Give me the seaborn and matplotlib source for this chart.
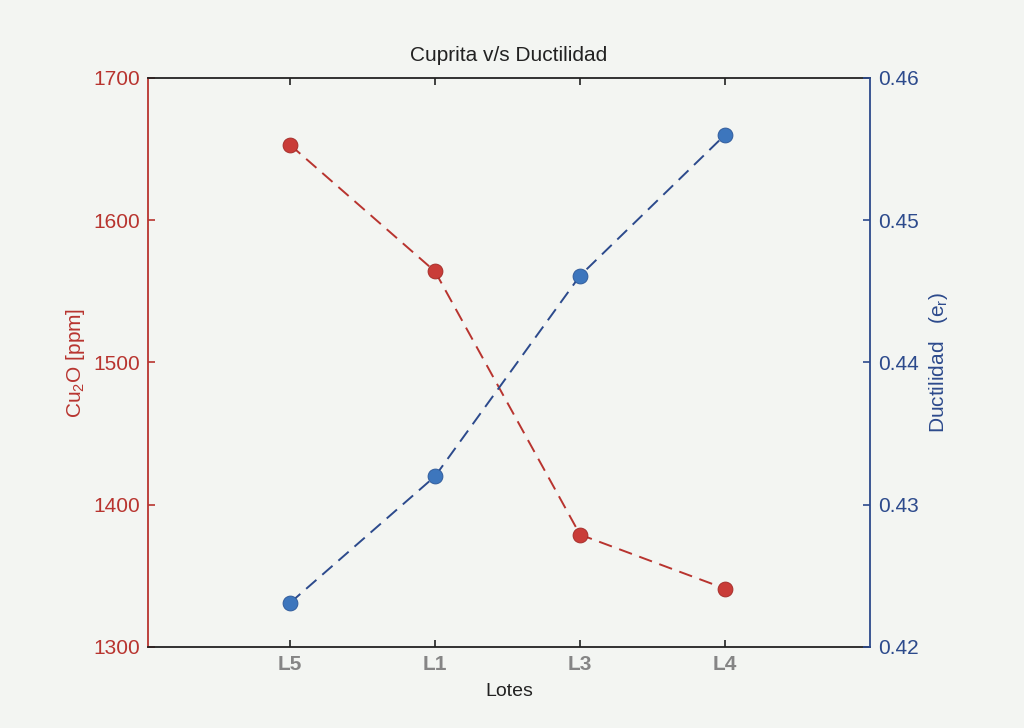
import numpy as np
import pandas as pd
import matplotlib
matplotlib.use("Agg")
import matplotlib.pyplot as plt
import seaborn as sns

# ---- data ----
lotes = ["L5", "L1", "L3", "L4"]
cu2o_ppm = [1653, 1564, 1379, 1341]
ductilidad = [0.4231, 0.4320, 0.4461, 0.4560]

title = "Cuprita v/s Ductilidad"
xlabel = "Lotes"
ylabel_left = "Cu$_2$O [ppm]"
ylabel_right = "Ductilidad   (e$_r$)"

RED = "#b8342f"
BLUE = "#2c4a8c"
MRED = "#c93c38"
MBLUE = "#3d76bd"
BG = "#f3f5f2"

sns.set_style("ticks")
plt.rcParams["font.family"] = ["Liberation Sans", "DejaVu Sans"]
plt.rcParams["mathtext.fontset"] = "custom"
plt.rcParams["mathtext.rm"] = "Liberation Sans"
plt.rcParams["mathtext.it"] = "Liberation Sans"

pos = np.arange(len(lotes))
df = pd.DataFrame({"pos": pos, "lote": lotes, "cu2o": cu2o_ppm, "duct": ductilidad})

fig = plt.figure(figsize=(10.24, 7.28), dpi=100, facecolor=BG)
ax1 = fig.add_axes([0.1445, 0.1113, 0.7051, 0.7816])
ax1.set_facecolor(BG)
ax2 = ax1.twinx()

sns.lineplot(data=df, x="pos", y="cu2o", ax=ax1, color=RED, lw=1.4,
             linestyle=(0, (7, 4)))
sns.scatterplot(data=df, x="pos", y="cu2o", ax=ax1, color=MRED, s=115,
                edgecolor="#a02824", linewidth=0.6, zorder=5)

sns.lineplot(data=df, x="pos", y="duct", ax=ax2, color=BLUE, lw=1.4,
             linestyle=(0, (7, 4)))
sns.scatterplot(data=df, x="pos", y="duct", ax=ax2, color=MBLUE, s=115,
                edgecolor="#2a5596", linewidth=0.6, zorder=5)

ax1.set_xlim(-0.98, 4.0)
ax1.set_ylim(1300, 1700)
ax2.set_ylim(0.42, 0.46)
ax1.set_xticks(pos)
ax1.set_xticklabels(lotes)
ax1.set_yticks([1300, 1400, 1500, 1600, 1700])
ax2.set_yticks([0.42, 0.43, 0.44, 0.45, 0.46])
ax2.set_yticklabels(["0.42", "0.43", "0.44", "0.45", "0.46"])

# spines
for s in ["left", "top", "bottom", "right"]:
    ax2.spines[s].set_visible(s == "right")
ax1.spines["right"].set_visible(False)
ax1.spines["left"].set_color(RED)
ax1.spines["top"].set_color("#222222")
ax1.spines["bottom"].set_color("#222222")
ax2.spines["right"].set_color(BLUE)
for sp in list(ax1.spines.values()) + [ax2.spines["right"]]:
    sp.set_linewidth(1.3)

ax1.tick_params(axis="y", direction="in", length=5, width=1.2, colors=RED,
                labelsize=15, pad=6, right=False)
ax1.tick_params(axis="x", direction="in", length=5, width=1.2, color="#222222",
                labelcolor="#858585", labelsize=15, pad=6, top=True)
for t in ax1.get_xticklabels():
    t.set_fontweight("bold")
ax2.tick_params(axis="y", direction="in", length=5, width=1.2, colors=BLUE,
                labelsize=15, pad=6)

ax1.set_xlabel(xlabel, fontsize=14, color="#222222", labelpad=6)
ax1.set_ylabel(ylabel_left, fontsize=15, color=RED, labelpad=4)
ax2.set_ylabel(ylabel_right, fontsize=15, color=BLUE, labelpad=6)
ax1.set_title(title, fontsize=15, color="#222222", pad=12)

fig.savefig("out.png", dpi=100, facecolor=BG)
